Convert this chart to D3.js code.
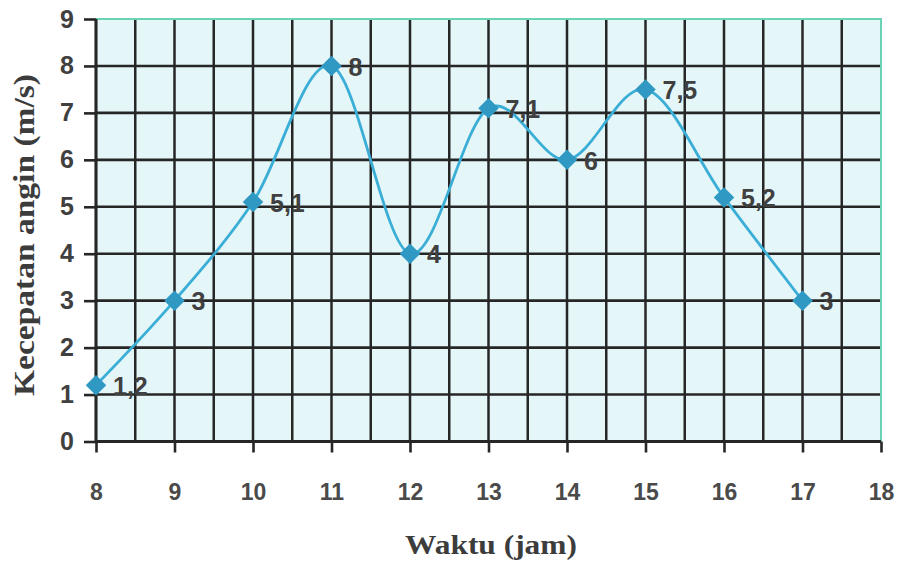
<!DOCTYPE html>
<html>
<head>
<meta charset="utf-8">
<script src="https://cdn.jsdelivr.net/npm/d3@7"></script>
<style>
  body { margin: 0; background: #fff; }
  svg { display: block; }
</style>
</head>
<body>
<svg id="chart" width="901" height="568"></svg>
<script>
// data
var hours = [8, 9, 10, 11, 12, 13, 14, 15, 16, 17];
var speeds = [1.2, 3, 5.1, 8, 4, 7.1, 6, 7.5, 5.2, 3];
var pointLabels = ["1,2", "3", "5,1", "8", "4", "7,1", "6", "7,5", "5,2", "3"];
var xTicks = [8, 9, 10, 11, 12, 13, 14, 15, 16, 17, 18];
var xGrid = [8, 8.5, 9, 9.5, 10, 10.5, 11, 11.5, 12, 12.5, 13, 13.5, 14, 14.5, 15, 15.5, 16, 16.5, 17, 17.5];
var yTicks = [0, 1, 2, 3, 4, 5, 6, 7, 8, 9];
var xTitle = "Waktu (jam)";
var yTitle = "Kecepatan angin (m/s)";

var svg = d3.select("#chart");
var margin = { left: 96, right: 20, top: 19, bottom: 126 };

var x = d3.scaleLinear().domain([8, 18]).range([margin.left, 881]);
var y = d3.scaleLinear().domain([0, 9]).range([441.5, margin.top]);

var gridColor = "#262626";
var textColor = "#404040";

// plot background
svg.append("rect")
    .attr("x", x(8)).attr("y", y(9))
    .attr("width", x(18) - x(8)).attr("height", y(0) - y(9))
    .attr("fill", "#e5f6f8");

// vertical grid (every half hour)
svg.append("g").selectAll("line")
    .data(xGrid)
    .enter().append("line")
    .attr("x1", function (d) { return x(d); })
    .attr("x2", function (d) { return x(d); })
    .attr("y1", y(9)).attr("y2", y(0))
    .attr("stroke", gridColor).attr("stroke-width", 2.5);

// horizontal grid
svg.append("g").selectAll("line")
    .data(yTicks.filter(function (d) { return d < 9; }))
    .enter().append("line")
    .attr("x1", x(8)).attr("x2", x(18))
    .attr("y1", function (d) { return y(d); })
    .attr("y2", function (d) { return y(d); })
    .attr("stroke", gridColor).attr("stroke-width", 2.6);

// teal top / right border
svg.append("path")
    .attr("d", "M" + x(8) + "," + y(9) + "H" + x(18) + "V" + y(0))
    .attr("fill", "none").attr("stroke", "#6ad3b6").attr("stroke-width", 2);

// axes (ticks + labels)
var yAxis = svg.append("g")
    .attr("transform", "translate(" + x(8) + ",0)")
    .call(d3.axisLeft(y).tickValues(yTicks).tickSize(12).tickPadding(10).tickFormat(d3.format("d")));
yAxis.select(".domain").remove();
yAxis.selectAll(".tick line").attr("stroke", gridColor).attr("stroke-width", 2.6);
yAxis.selectAll("text")
    .attr("fill", textColor)
    .style("font", "bold 25px 'Liberation Sans', Arial, sans-serif");

var xAxis = svg.append("g")
    .attr("transform", "translate(0," + y(0) + ")")
    .call(d3.axisBottom(x).tickValues(xTicks).tickSize(11).tickPadding(31).tickFormat(d3.format("d")));
xAxis.select(".domain").remove();
xAxis.selectAll(".tick line").attr("stroke", gridColor).attr("stroke-width", 2.6);
xAxis.selectAll("text")
    .attr("fill", "#4a4a4a")
    .style("font", "bold 23px 'Liberation Sans', Arial, sans-serif");

// left and bottom axis lines
svg.append("line")
    .attr("x1", x(8)).attr("x2", x(8)).attr("y1", y(9)).attr("y2", y(0))
    .attr("stroke", gridColor).attr("stroke-width", 2.8);
svg.append("line")
    .attr("x1", x(8)).attr("x2", x(18)).attr("y1", y(0)).attr("y2", y(0))
    .attr("stroke", gridColor).attr("stroke-width", 2.8);

// smoothed line
var pts = hours.map(function (h, i) { return { h: h, v: speeds[i], label: pointLabels[i] }; });

var line = d3.line()
    .x(function (d) { return x(d.h); })
    .y(function (d) { return y(d.v); })
    .curve(d3.curveCatmullRom.alpha(0));

svg.append("path")
    .datum(pts)
    .attr("d", line)
    .attr("fill", "none")
    .attr("stroke", "#3aaed6")
    .attr("stroke-width", 2.8);

// diamond markers
svg.append("g").selectAll("path")
    .data(pts)
    .enter().append("path")
    .attr("transform", function (d) { return "translate(" + x(d.h) + "," + y(d.v) + ") rotate(45)"; })
    .attr("d", d3.symbol().type(d3.symbolSquare).size(210))
    .attr("fill", "#2f98c3");

// point labels
svg.append("g").selectAll("text")
    .data(pts)
    .enter().append("text")
    .attr("x", function (d) { return x(d.h) + 17; })
    .attr("y", function (d) { return y(d.v) + 1; })
    .attr("dy", "0.35em")
    .attr("fill", textColor)
    .style("font", "bold 25px 'Liberation Sans', Arial, sans-serif")
    .text(function (d) { return d.label; });

// axis titles
svg.append("text")
    .attr("x", 491).attr("y", 554)
    .attr("text-anchor", "middle")
    .attr("fill", "#3c3c3c")
    .attr("textLength", 172).attr("lengthAdjust", "spacingAndGlyphs")
    .style("font", "bold 28px 'Liberation Serif', 'Times New Roman', serif")
    .text(xTitle);

svg.append("text")
    .attr("transform", "translate(34,235) rotate(-90)")
    .attr("text-anchor", "middle")
    .attr("fill", "#3c3c3c")
    .attr("textLength", 322).attr("lengthAdjust", "spacingAndGlyphs")
    .style("font", "bold 30px 'Liberation Serif', 'Times New Roman', serif")
    .text(yTitle);
</script>
</body>
</html>
